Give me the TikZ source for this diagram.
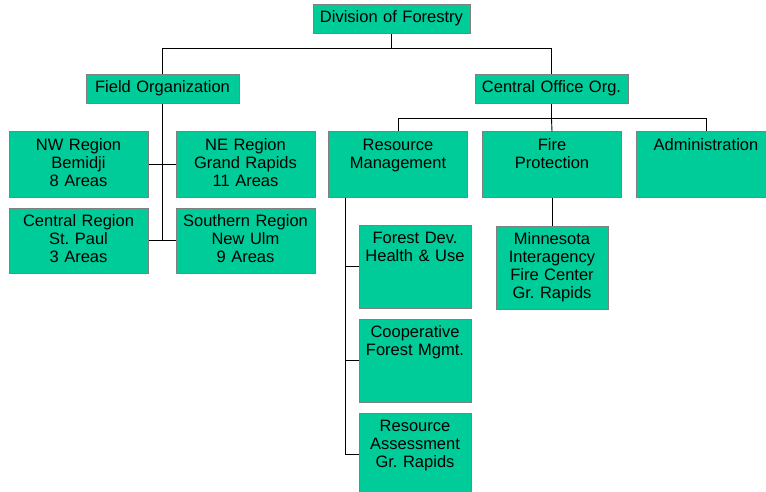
\documentclass[tikz,border=0pt]{standalone}
\usepackage{fontspec}
\setmainfont{Liberation Sans}
\usepackage{tikz}
\usetikzlibrary{positioning}
\definecolor{forest}{RGB}{0,204,153}
\definecolor{edgegray}{RGB}{128,128,128}
\frenchspacing

\begin{document}
\begin{tikzpicture}[x=1pt,y=-1pt,
  node distance = 10pt,
  font=\fontsize{16.5}{18}\selectfont,
  unit/.style = {rectangle,draw=edgegray,line width=1pt,fill=forest,
  inner xsep=0pt,inner ysep=0pt,align=center},
  head/.style = {unit,text width=153pt,text height=18pt,text depth=11pt},
  region/.style = {unit,text width=139pt,text height=18pt,text depth=47pt},
  sub/.style = {unit,text width=112pt,text height=18.5pt,text depth=64.5pt},
  link/.style = {line width=0.9pt}]
 \useasboundingbox (0,0) rectangle (766,492);
 \node[head,text width=157pt] (div) at (391.5,19.5) {Division of Forestry};
 \node[head] (field)  at (162.5,89.5) {Field Organization};
 \node[head] (office) at (551.5,89.5) {Central Office Org.};
 % field regions
 \node[region] (nw) at (78.5,164.5) {NW Region\\Bemidji\\8 Areas};
 \node[region,right=27pt of nw] (ne) {NE Region\\Grand Rapids\\11 Areas};
 \node[region,below=of nw] (cr) {Central Region\\St. Paul\\3 Areas};
 \node[region,right=27pt of cr] (sr) {Southern Region\\New Ulm\\9 Areas};
 % central office
 \node[region] (res) at (398,164.5) {Resource\\Management};
 \node[region,right=14pt of res] (fire) {Fire\\Protection};
 \node[region,right=14pt of fire] (admin) {Administration};
 \node[sub] (fdev) at (415,266.5) {Forest Dev.\\Health \& Use};
 \node[sub,below=of fdev] (coop) {Cooperative\\Forest Mgmt.};
 \node[sub,below=of coop] (assess) {Resource\\Assessment\\Gr. Rapids};
 \node[sub,below=28pt of fire] (mifc) {Minnesota\\Interagency\\Fire Center\\Gr. Rapids};
 \begin{scope}[link]
  \draw (div.south) -- ++(0,14) coordinate (top);
  \draw (field.north) |- (top) -| (office.north);
  \draw (office.south) -- ++(0,14) coordinate (mid);
  \draw (res.north) |- (mid) -| (admin.north);
  \draw (mid) -- (fire.north);
  \draw[line width=1.8pt] (field.south) -- (field.south |- cr.east);
  \draw (nw.east) -- (ne.west);
  \draw (cr.east) -- (sr.west);
  \draw ([xshift=17pt]res.south west) coordinate (trunk) |- (assess.west);
  \draw (fdev.west) -- (fdev.west -| trunk);
  \draw (coop.west) -- (coop.west -| trunk);
  \draw (fire.south) -- (mifc.north);
 \end{scope}
\end{tikzpicture}
\end{document}
